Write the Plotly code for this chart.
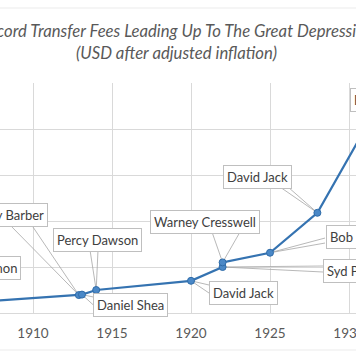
import plotly.graph_objects as go

# ---- data ----
years = [1905, 1912.9, 1913.1, 1914, 1920, 1922, 1922, 1925, 1928, 1932]
fees = [1000, 1950, 2000, 2500, 3500, 5000, 5500, 6550, 10890, 23000]
players = ["Alf Common", "Tommy Barber", "Daniel Shea", "Percy Dawson", "David Jack",
           "Syd Puddefoot", "Warney Cresswell", "Bob Kelly", "David Jack", "Bernabé Ferreyra"]
x_tick_vals = [1905, 1910, 1915, 1920, 1925, 1930, 1935]
x_tick_text = [str(v) for v in x_tick_vals]
title_line1 = "Record Transfer Fees Leading Up To The Great Depression"
title_line2 = "(USD after adjusted inflation)"

# ---- layout constants ----
W, H = 356, 364
M = dict(l=0, r=0, t=83, b=51)
XR = [1907.911, 1930.443]
YR = [0, 25000.5]
PW = W - M["l"] - M["r"]
PH = H - M["t"] - M["b"]

FONT = "Lato, 'Open Sans', sans-serif"

# callout placement (pixel offsets from the data point, screen y downward)
callouts = [
    dict(dx=67, dy=-36, anchor="right", wedge=None),
    dict(dx=-30.8, dy=-80, anchor="right", wedge=[(-66.8, -68), (-45.8, -68)]),
    dict(dx=11.4, dy=10, anchor="left", wedge=[(11.4, 2.4), (11.4, 10.4)]),
    dict(dx=-43.2, dy=-50, anchor="left", wedge=[(-6.2, -40), (1.8, -40)]),
    dict(dx=18, dy=11.7, anchor="left", wedge=[(18, 4.2), (18, 12.2)]),
    dict(dx=100.4, dy=4, anchor="left", wedge=[(100.4, -1), (100.4, 5)]),
    dict(dx=-72.6, dy=-40.4, anchor="left", wedge=[(-10.6, -30.4), (17.4, -30.4)]),
    dict(dx=56, dy=-16.2, anchor="left", wedge=[(55, -14.7), (55, -9.7)]),
    dict(dx=-94.4, dy=-35.8, anchor="left", wedge=[(-37.4, -25.8), (-29.4, -25.8)]),
    dict(dx=-30.6, dy=-1, anchor="left", wedge=None),
]

fig = go.Figure()
fig.add_trace(go.Scatter(
    x=years, y=fees, mode="lines+markers",
    line=dict(color="#3573b1", width=2.25),
    marker=dict(size=7, color="#4a88c7", line=dict(color="#2f6ca9", width=1)),
    cliponaxis=True, showlegend=False, hoverinfo="skip",
))

shapes = []
annotations = []
for yr, val, name, c in zip(years, fees, players, callouts):
    fx = (yr - XR[0]) / (XR[1] - XR[0])
    fy = (val - YR[0]) / (YR[1] - YR[0])
    annotations.append(dict(
        xref="paper", yref="paper",
        x=fx + c["dx"] / PW, y=fy - c["dy"] / PH,
        xanchor=c["anchor"], yanchor="middle",
        text=name, showarrow=False,
        font=dict(family=FONT, size=13, color="#404040"),
        bgcolor="white", bordercolor="#bfbfbf", borderwidth=1, borderpad=3,
    ))
    if c["wedge"]:
        (x1, y1), (x2, y2) = c["wedge"]
        shapes.append(dict(
            type="path", xref="x", yref="y",
            xsizemode="pixel", ysizemode="pixel", xanchor=yr, yanchor=val,
            path=f"M {x1},{-y1} L 0,0 L {x2},{-y2}",
            line=dict(color="#a6a6a6", width=0.8), layer="between",
        ))

# faint chart-frame lines
for py in (8, 350):
    yp = (H - M["b"] - py) / PH
    shapes.append(dict(type="line", xref="paper", yref="paper", x0=-0.1, x1=1.1,
                       y0=yp, y1=yp, line=dict(color="#ebebeb", width=1), layer="below"))

fig.update_layout(
    width=W, height=H, autosize=False,
    margin=dict(l=M["l"], r=M["r"], t=M["t"], b=M["b"], pad=0, autoexpand=False),
    paper_bgcolor="white", plot_bgcolor="white",
    title=dict(text=f"<i>{title_line1}<br>{title_line2}</i>",
               x=176.5 / W, xanchor="center", xref="container",
               y=1 - 37 / H, yanchor="middle", yref="container",
               font=dict(family=FONT, size=16.7, color="#595959")),
    xaxis=dict(range=XR, tickvals=x_tick_vals, ticktext=x_tick_text,
               automargin=False,
               showgrid=True, gridcolor="#d9d9d9", gridwidth=1,
               showline=True, linecolor="#d9d9d9", linewidth=1,
               zeroline=False, ticks="", ticklabelstandoff=8,
               ticklabeloverflow="allow",
               tickfont=dict(family=FONT, size=13.5, color="#595959")),
    yaxis=dict(range=YR, dtick=5000, automargin=False,
               showgrid=True, gridcolor="#d9d9d9", gridwidth=1,
               showticklabels=False, zeroline=False, ticks=""),
    shapes=shapes, annotations=annotations,
)

fig.write_html(
    "out.html",
    config={"displayModeBar": False},
    post_script="document.body.style.margin='0';document.body.style.overflow='hidden';",
)
